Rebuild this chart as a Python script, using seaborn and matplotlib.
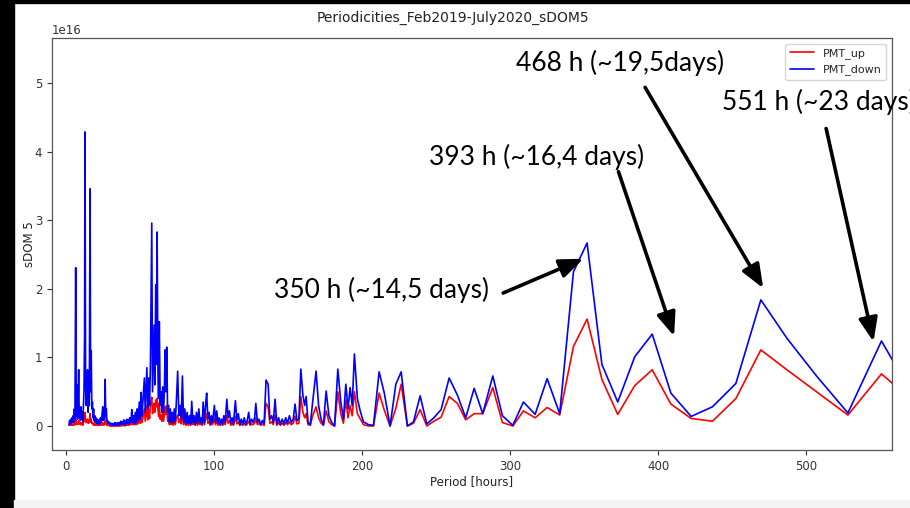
import matplotlib
matplotlib.use('Agg')
import matplotlib.pyplot as plt
import seaborn as sns
import pandas as pd
import numpy as np
from matplotlib.patches import Rectangle

# ---------------- data ----------------
period = [
    2.0, 2.4, 2.8, 3.2, 3.6, 4.0, 4.4, 4.8, 5.2, 5.6,
    6.0, 6.5, 6.9, 7.3, 7.7, 8.1, 8.5, 8.9, 9.3, 9.7,
    10.1, 10.5, 10.9, 11.3, 11.7, 12.1, 12.5, 12.8, 13.2, 13.6,
    14.0, 14.5, 14.9, 15.3, 15.7, 16.2, 16.6, 17.0, 17.4, 17.8,
    18.2, 18.6, 19.0, 19.4, 19.8, 20.2, 20.6, 21.0, 21.4, 21.8,
    22.2, 22.6, 23.0, 23.4, 23.8, 24.2, 24.8, 25.2, 25.6, 26.0,
    26.4, 26.8, 27.2, 27.6, 28.0, 28.5, 29.0, 29.5, 30.0, 30.5,
    31.0, 31.5, 32.0, 32.5, 33.0, 33.5, 34.0, 34.5, 35.0, 35.5,
    36.0, 36.5, 37.0, 37.5, 38.0, 38.5, 39.0, 39.5, 40.0, 40.5,
    41.0, 41.5, 42.0, 42.5, 43.0, 43.5, 44.0, 44.4, 45.0, 45.6,
    46.2, 46.8, 47.4, 48.0, 48.6, 49.5, 50.1, 50.7, 51.3, 52.0,
    52.9, 53.5, 54.0, 54.6, 55.2, 55.8, 56.4, 57.0, 57.9, 58.4,
    59.0, 59.5, 60.0, 60.6, 61.0, 61.5, 62.1, 62.5, 63.0, 63.6,
    64.2, 64.7, 65.3, 65.9, 66.5, 66.9, 67.5, 68.0, 68.6, 69.2,
    69.8, 70.4, 71.0, 71.7, 72.4, 73.1, 73.8, 74.5, 75.4, 76.2,
    77.0, 77.8, 78.6, 79.4, 80.2, 81.0, 81.8, 82.6, 83.4, 84.2,
    84.9, 85.7, 86.5, 87.3, 88.1, 88.9, 89.7, 90.5, 91.3, 92.0,
    92.6, 93.5, 94.4, 95.0, 95.8, 96.6, 97.4, 98.2, 99.0, 100.2,
    101.0, 101.8, 102.6, 103.4, 104.2, 105.0, 105.8, 106.6, 107.5, 108.6,
    109.5, 110.4, 111.3, 112.2, 113.1, 114.4, 115.4, 116.4, 117.4, 118.4,
    119.4, 120.4, 121.4, 122.4, 123.4, 124.4, 125.4, 126.4, 127.4, 128.2,
    129.3, 130.4, 131.5, 132.6, 133.8, 135.1, 136.5, 137.7, 138.9, 140.0,
    141.2, 142.4, 143.6, 144.8, 146.0, 147.2, 148.4, 149.6, 150.9, 152.2,
    153.5, 154.7, 156.0, 157.3, 158.6, 160.0, 161.2, 162.2, 163.5, 165.0,
    166.6, 168.9, 170.6, 172.3, 173.9, 175.7, 177.6, 179.5, 181.4, 183.6,
    185.6, 187.4, 189.0, 190.5, 191.9, 193.3, 194.8, 196.8, 198.6, 200.9,
    204.3, 207.7, 211.5, 215.0, 218.9, 222.8, 226.4, 230.6, 234.7, 239.2,
    243.7, 248.5, 253.4, 258.8, 264.4, 270.0, 275.7, 281.5, 288.3, 294.8,
    301.8, 309.0, 316.9, 325.0, 333.5, 342.8, 352.0, 362.0, 372.7, 384.2,
    396.0, 408.6, 422.3, 436.7, 452.5, 469.4, 487.0, 507.0, 528.2, 550.9,
    576.0,
]

# PMT_down (blue), in units of 1e16
pmt_down = [
    0.02, 0.08, 0.03, 0.10, 0.04, 0.12, 0.05, 0.15, 0.06, 0.25,
    0.10, 2.31, 0.15, 0.60, 0.10, 0.30, 0.82, 0.12, 0.25, 0.08,
    0.28, 0.10, 0.20, 0.06, 0.30, 0.50, 1.30, 4.29, 0.60, 0.30,
    0.45, 0.82, 0.20, 0.45, 0.30, 3.46, 0.50, 1.10, 0.25, 0.35,
    0.12, 0.25, 0.08, 0.15, 0.05, 0.12, 0.04, 0.10, 0.03, 0.08,
    0.03, 0.10, 0.04, 0.12, 0.05, 0.15, 0.28, 0.08, 0.20, 0.10,
    0.68, 0.15, 0.25, 0.06, 0.08, 0.03, 0.06, 0.02, 0.04, 0.01,
    0.04, 0.01, 0.03, 0.01, 0.05, 0.01, 0.04, 0.02, 0.05, 0.01,
    0.05, 0.02, 0.07, 0.02, 0.06, 0.03, 0.09, 0.02, 0.07, 0.03,
    0.10, 0.04, 0.09, 0.03, 0.12, 0.05, 0.10, 0.24, 0.05, 0.15,
    0.04, 0.20, 0.05, 0.25, 0.08, 0.35, 0.10, 0.49, 0.15, 0.40,
    0.70, 0.20, 0.50, 0.85, 0.25, 0.70, 0.30, 0.90, 2.96, 0.50,
    1.00, 1.47, 0.60, 2.06, 0.90, 2.83, 0.80, 0.40, 1.52, 0.30,
    0.50, 0.20, 0.57, 0.20, 0.60, 1.11, 0.50, 1.15, 0.20, 0.30,
    0.06, 0.25, 0.05, 0.20, 0.04, 0.25, 0.06, 0.35, 0.80, 0.15,
    0.30, 0.10, 0.73, 0.05, 0.25, 0.03, 0.20, 0.04, 0.15, 0.03,
    0.36, 0.05, 0.15, 0.02, 0.20, 0.04, 0.25, 0.05, 0.12, 0.03,
    0.35, 0.05, 0.35, 0.48, 0.10, 0.20, 0.03, 0.15, 0.05, 0.30,
    0.05, 0.22, 0.04, 0.12, 0.02, 0.10, 0.03, 0.15, 0.05, 0.39,
    0.12, 0.22, 0.04, 0.12, 0.03, 0.37, 0.08, 0.18, 0.02, 0.10,
    0.03, 0.12, 0.02, 0.08, 0.20, 0.03, 0.10, 0.05, 0.12, 0.33,
    0.05, 0.10, 0.02, 0.08, 0.03, 0.67, 0.61, 0.10, 0.15, 0.05,
    0.39, 0.03, 0.12, 0.02, 0.10, 0.03, 0.12, 0.04, 0.15, 0.05,
    0.10, 0.32, 0.08, 0.10, 0.83, 0.45, 0.30, 0.43, 0.05, 0.02,
    0.35, 0.80, 0.30, 0.10, 0.02, 0.51, 0.15, 0.05, 0.00, 0.83,
    0.35, 0.10, 0.61, 0.25, 0.56, 0.30, 1.05, 0.40, 0.23, 0.06,
    0.02, 0.01, 0.79, 0.48, 0.00, 0.61, 0.79, 0.00, 0.06, 0.44,
    0.03, 0.12, 0.24, 0.70, 0.45, 0.12, 0.55, 0.18, 0.73, 0.15,
    0.01, 0.35, 0.17, 0.69, 0.18, 2.25, 2.67, 0.90, 0.35, 1.01,
    1.34, 0.48, 0.14, 0.28, 0.62, 1.84, 1.28, 0.73, 0.19, 1.24,
    0.30,
]

# PMT_up (red), in units of 1e16
pmt_up = [
    0.01, 0.02, 0.01, 0.02, 0.01, 0.02, 0.01, 0.03, 0.01, 0.04,
    0.02, 0.10, 0.03, 0.06, 0.02, 0.05, 0.08, 0.03, 0.04, 0.02,
    0.05, 0.02, 0.04, 0.01, 0.05, 0.06, 0.10, 0.20, 0.08, 0.05,
    0.06, 0.10, 0.04, 0.06, 0.05, 0.18, 0.06, 0.10, 0.04, 0.05,
    0.02, 0.04, 0.01, 0.03, 0.01, 0.02, 0.01, 0.02, 0.01, 0.01,
    0.01, 0.02, 0.01, 0.02, 0.01, 0.03, 0.05, 0.01, 0.03, 0.02,
    0.08, 0.03, 0.04, 0.01, 0.01, 0.01, 0.01, 0.00, 0.01, 0.00,
    0.01, 0.00, 0.01, 0.00, 0.01, 0.00, 0.01, 0.00, 0.01, 0.00,
    0.01, 0.00, 0.02, 0.00, 0.01, 0.01, 0.02, 0.00, 0.02, 0.01,
    0.03, 0.01, 0.03, 0.01, 0.04, 0.02, 0.03, 0.08, 0.02, 0.05,
    0.02, 0.07, 0.02, 0.09, 0.03, 0.12, 0.04, 0.17, 0.05, 0.14,
    0.25, 0.07, 0.18, 0.30, 0.09, 0.24, 0.11, 0.32, 0.42, 0.18,
    0.28, 0.33, 0.20, 0.38, 0.28, 0.40, 0.24, 0.14, 0.33, 0.10,
    0.16, 0.07, 0.19, 0.07, 0.20, 0.28, 0.17, 0.30, 0.07, 0.11,
    0.02, 0.09, 0.02, 0.07, 0.01, 0.09, 0.02, 0.12, 0.16, 0.05,
    0.10, 0.03, 0.22, 0.02, 0.09, 0.01, 0.07, 0.01, 0.05, 0.01,
    0.13, 0.02, 0.05, 0.01, 0.07, 0.01, 0.09, 0.02, 0.04, 0.01,
    0.13, 0.02, 0.13, 0.18, 0.04, 0.07, 0.01, 0.05, 0.02, 0.11,
    0.02, 0.08, 0.01, 0.04, 0.01, 0.04, 0.01, 0.05, 0.02, 0.15,
    0.04, 0.08, 0.01, 0.04, 0.01, 0.14, 0.03, 0.06, 0.01, 0.03,
    0.01, 0.04, 0.01, 0.03, 0.07, 0.01, 0.03, 0.02, 0.04, 0.12,
    0.02, 0.04, 0.01, 0.03, 0.01, 0.33, 0.28, 0.04, 0.06, 0.02,
    0.16, 0.01, 0.05, 0.01, 0.04, 0.01, 0.05, 0.02, 0.06, 0.02,
    0.04, 0.14, 0.03, 0.04, 0.43, 0.20, 0.12, 0.18, 0.02, 0.01,
    0.15, 0.28, 0.12, 0.04, 0.01, 0.22, 0.06, 0.02, 0.00, 0.50,
    0.18, 0.04, 0.38, 0.12, 0.30, 0.15, 0.50, 0.18, 0.11, 0.02,
    0.00, 0.00, 0.48, 0.23, 0.00, 0.26, 0.61, 0.00, 0.04, 0.24,
    0.00, 0.07, 0.13, 0.43, 0.33, 0.09, 0.18, 0.18, 0.56, 0.05,
    0.00, 0.22, 0.12, 0.27, 0.16, 1.16, 1.56, 0.68, 0.17, 0.59,
    0.82, 0.32, 0.11, 0.07, 0.40, 1.11, 0.82, 0.50, 0.16, 0.76,
    0.29,
]

series_labels = ["PMT_up", "PMT_down"]
title_text = "Periodicities_Feb2019-July2020_sDOM5"
x_label = "Period [hours]"
y_label = "sDOM 5"
scale = 1e16

# annotations: (text, text x, text y, ha, arrow tail, arrow tip)
notes = [
    ("350 h (~14,5 days)", 212.8, 1.98, "center", (295.3, 1.94), (349.5, 2.44)),
    ("393 h (~16,4 days)", 317.6, 3.92, "center", (373.2, 3.71), (410.8, 1.31)),
    ("468 h (~19,5days)", 374.3, 5.30, "center", (391.2, 4.94), (471.0, 2.01)),
    ("551 h (~23 days)", 443.0, 4.73, "left", (513.5, 4.34), (545.5, 1.23)),
]

assert len(period) == len(pmt_up) == len(pmt_down)

# ---------------- plot ----------------
sns.set_style("ticks")
plt.rcParams['font.family'] = ['DejaVu Sans']

W, H = 910, 508
fig = plt.figure(figsize=(W / 100, H / 100), dpi=100)
fig.patch.set_facecolor('white')
ax = fig.add_axes([52 / W, (H - 450) / H, 840 / W, 412 / H])

df = pd.DataFrame({
    "period": period,
    "up": np.array(pmt_up) * scale,
    "down": np.array(pmt_down) * scale,
})
sns.lineplot(data=df, x="period", y="up", color="red", lw=1.2,
             label=series_labels[0], ax=ax, estimator=None, sort=False)
sns.lineplot(data=df, x="period", y="down", color="blue", lw=1.2,
             label=series_labels[1], ax=ax, estimator=None, sort=False)

ax.set_xlim(-9.5, 558)
ax.set_ylim(-0.35e16, 5.66e16)
ax.set_xticks([0, 100, 200, 300, 400, 500])
ax.set_yticks(np.arange(0, 6) * scale)
ax.tick_params(labelsize=8.5, colors='#333333', length=3.5, width=0.8)
ax.yaxis.get_offset_text().set_fontsize(8.5)
for sp in ax.spines.values():
    sp.set_visible(True)
    sp.set_color('#555555')
    sp.set_linewidth(0.9)
ax.set_xlabel(x_label, fontsize=8.5, color='#222222', labelpad=2)
ax.set_ylabel(y_label, fontsize=8.5, color='#222222', labelpad=-1)

leg = ax.legend(loc='upper right', fontsize=8, frameon=True, fancybox=True,
                handlelength=2.2)
leg.get_frame().set_edgecolor('#cccccc')

fig.text(453 / W, 1 - 18 / H, title_text, ha='center', va='center',
         fontsize=10, color='#222222')

for txt, tx, ty, ha, tail, tip in notes:
    ax.text(tx, ty * scale, txt, ha=ha, va='center', fontsize=19,
            family=['Lato', 'DejaVu Sans'], color='black', clip_on=False)
    ax.annotate('', xy=(tip[0], tip[1] * scale), xytext=(tail[0], tail[1] * scale),
                arrowprops=dict(arrowstyle='-|>,head_length=0.55,head_width=0.22',
                                mutation_scale=26, lw=2.6, color='black',
                                shrinkA=0, shrinkB=0),
                annotation_clip=False)

# slide framing around the screenshot
fig.add_artist(Rectangle((0, 0), 14 / W, 1, transform=fig.transFigure,
                         color='black', zorder=20))
fig.add_artist(Rectangle((0, 1 - 3 / H), 1, 3 / H, transform=fig.transFigure,
                         color='black', zorder=20))
fig.add_artist(Rectangle((14 / W, 0), 1, 8 / H, transform=fig.transFigure,
                         color='#f3f3f3', zorder=20))

fig.savefig("out.png", dpi=100)
